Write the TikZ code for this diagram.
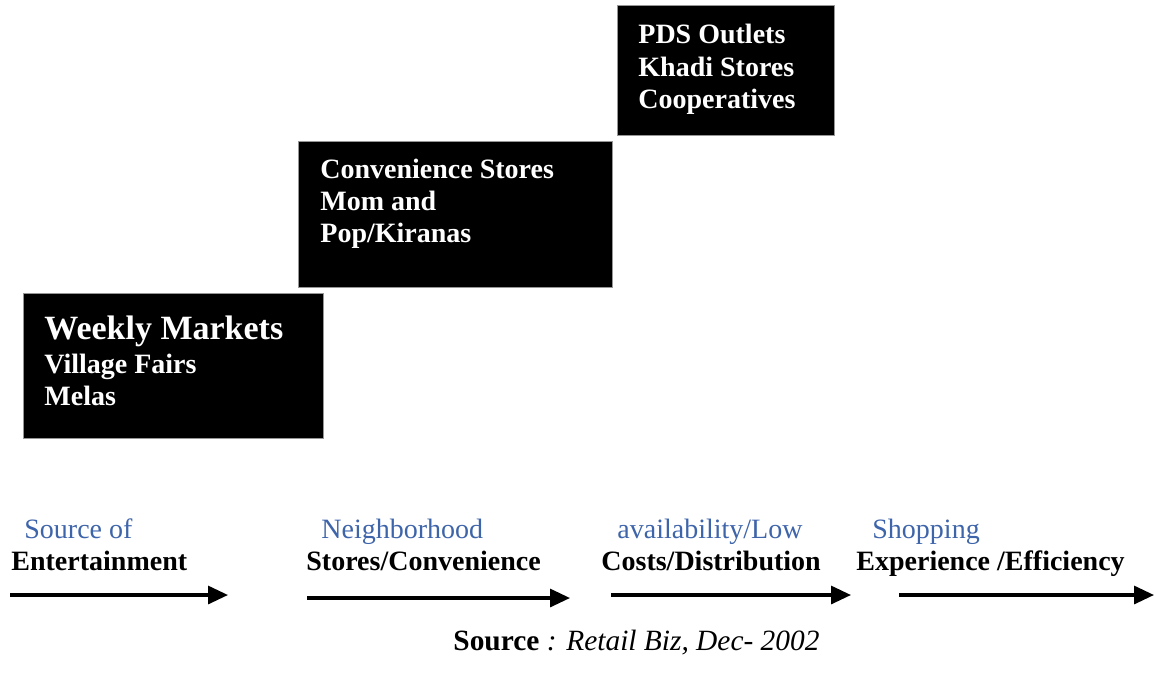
\documentclass[tikz,border=0pt]{standalone}
\usepackage{fontspec}
\setmainfont{Liberation Serif}
\usepackage{tikz}
\usetikzlibrary{arrows.meta}
\usepackage{xcolor}
\definecolor{stageblack}{RGB}{0,0,0}
\definecolor{stageblue}{RGB}{62,100,170}
\definecolor{stageedge}{RGB}{150,150,150}

\begin{document}
\begin{tikzpicture}[x=0.5pt, y=-0.5pt,
  stagebox/.style={fill=stageblack, draw=stageedge, line width=0.4pt, inner sep=0pt, anchor=north west},
  boxline/.style={text=white, font=\fontsize{14}{16}\selectfont\bfseries, inner sep=0pt, anchor=base west},
  bigline/.style={boxline, font=\fontsize{17}{19}\selectfont\bfseries},
  bluetag/.style={text=stageblue, font=\fontsize{14}{16}\selectfont, inner sep=0pt, anchor=base west},
  blacktag/.style={text=black, font=\fontsize{14}{16}\selectfont\bfseries, inner sep=0pt, anchor=base west},
  stagearrow/.style={line width=1.6pt, -{Triangle[length=10pt, width=9pt]}}]
\useasboundingbox (0,0) rectangle (1154,675);
% the three black boxes
\node[stagebox, minimum width=150pt, minimum height=72.5pt] (weekly) at (23,293) {};
\node[stagebox, minimum width=157pt, minimum height=73pt] (conv) at (298,141) {};
\node[stagebox, minimum width=108.5pt, minimum height=65pt] (pds) at (617,5) {};
\node[bigline] (weekly1) at (44,339) {Weekly Markets};
\node[boxline] (weekly2) at (44,373) {Village Fairs};
\node[boxline] (weekly3) at (44,405) {Melas};
\node[boxline] (conv1) at (320,178) {Convenience Stores};
\node[boxline] (conv2) at (320,210) {Mom and};
\node[boxline] (conv3) at (320,242) {Pop/Kiranas};
\node[boxline] (pds1) at (638,43) {PDS Outlets};
\node[boxline] (pds2) at (638,76) {Khadi Stores};
\node[boxline] (pds3) at (638,108) {Cooperatives};
% labels under the boxes
\node[bluetag] (enttop) at (24,538) {Source of};
\node[blacktag] (ent) at (11,570) {Entertainment};
\node[bluetag] (neightop) at (321,538) {Neighborhood};
\node[blacktag] (neigh) at (306,570) {Stores/Convenience};
\node[bluetag] (costtop) at (617,538) {availability/Low};
\node[blacktag] (cost) at (601,570) {Costs/Distribution};
\node[bluetag] (shoptop) at (872,538) {Shopping};
\node[blacktag] (shop) at (856,570) {Experience /Efficiency};
% arrows
\coordinate (a1) at (10,595);  \coordinate (b1) at (228,595);
\coordinate (a2) at (307,598); \coordinate (b2) at (570,598);
\coordinate (a3) at (611,595); \coordinate (b3) at (851,595);
\coordinate (a4) at (899,595); \coordinate (b4) at (1154,595);
\foreach \i in {1,...,4} {
  \draw[stagearrow] (a\i) -- (b\i);
}
\node[inner sep=0pt, anchor=base west, font=\fontsize{14.7}{17}\selectfont] (src) at (453,650)
  {\textbf{Source}\textit{ : Retail Biz, Dec- 2002}};
\end{tikzpicture}
\end{document}
